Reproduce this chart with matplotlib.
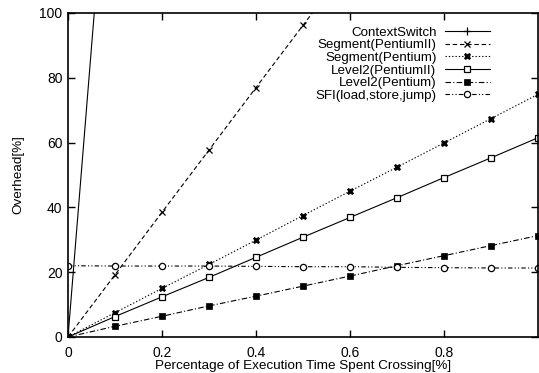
import matplotlib
matplotlib.use("Agg")
import matplotlib.pyplot as plt

plt.rcParams['font.family'] = ['Liberation Sans', 'DejaVu Sans']

crossing = [0.0, 0.1, 0.2, 0.3, 0.4, 0.5, 0.6, 0.7, 0.8, 0.9, 1.0]

context_switch = [0, 179, 358]
segment_p2 = [0, 19.2, 38.5, 57.7, 77.0, 96.2, 115.4, 134.7, 153.9, 173.2, 192.4]
segment_p = [0, 7.5, 15.0, 22.4, 29.9, 37.5, 45.0, 52.4, 59.9, 67.4, 74.9]
level2_p2 = [0, 6.3, 12.4, 18.4, 24.6, 30.8, 36.9, 43.0, 49.2, 55.3, 61.5]
level2_p = [0, 3.3, 6.4, 9.6, 12.6, 15.7, 18.8, 22.0, 25.1, 28.2, 31.3]
sfi = [22.0, 21.9, 21.9, 21.9, 21.8, 21.7, 21.7, 21.5, 21.4, 21.3, 21.3]

labels = ["ContextSwitch", "Segment(PentiumII)", "Segment(Pentium)",
          "Level2(PentiumII)", "Level2(Pentium)", "SFI(load,store,jump)"]

fig = plt.figure(figsize=(5.39, 3.73), dpi=100)
ax = fig.add_axes([68 / 539, 36 / 373, 470 / 539, 324 / 373])

lw = 0.8
ax.plot(crossing[:3], context_switch, color="black", lw=lw, ls="-",
        marker="+", ms=6, mew=0.9, label=labels[0])
ax.plot(crossing, segment_p2, color="black", lw=lw, ls=(0, (4, 2.5)),
        marker="x", ms=5, mew=0.9, label=labels[1])
ax.plot(crossing, segment_p, color="black", lw=lw, ls=(0, (1.2, 1.8)),
        marker="X", ms=5, mew=0.5, label=labels[2])
ax.plot(crossing, level2_p2, color="black", lw=lw, ls="-",
        marker="s", ms=4.5, mfc="white", mew=0.9, label=labels[3])
ax.plot(crossing, level2_p, color="black", lw=lw, ls=(0, (5, 2, 1, 2)),
        marker="s", ms=4.5, mew=0.5, label=labels[4])
ax.plot(crossing, sfi, color="black", lw=lw, ls=(0, (4, 2, 1, 2, 1, 2)),
        marker="o", ms=4.5, mfc="white", mew=0.9, label=labels[5])

ax.set_xlim(0, 1.0)
ax.set_ylim(0, 100)
ax.set_xticks([0, 0.2, 0.4, 0.6, 0.8])
ax.set_xticklabels(["0", "0.2", "0.4", "0.6", "0.8"])
ax.set_yticks([0, 20, 40, 60, 80, 100])
ax.tick_params(direction="in", length=5, width=1, top=True, right=True,
               labelsize=10, pad=4, colors="black")
ax.tick_params(axis="x", pad=6.5)
for s in ax.spines.values():
    s.set_linewidth(1.2)

ax.set_xlabel("Percentage of Execution Time Spent Crossing[%]", fontsize=9.7, labelpad=0)
ax.set_ylabel("Overhead[%]", fontsize=9.7, labelpad=11)

ax.legend(loc="upper right", bbox_to_anchor=(0.909, 0.975), frameon=False,
          markerfirst=False, numpoints=1, handlelength=3.4, fontsize=9.6,
          labelspacing=0.02, handletextpad=0.6, borderaxespad=0)

fig.savefig("out.png", dpi=100)
